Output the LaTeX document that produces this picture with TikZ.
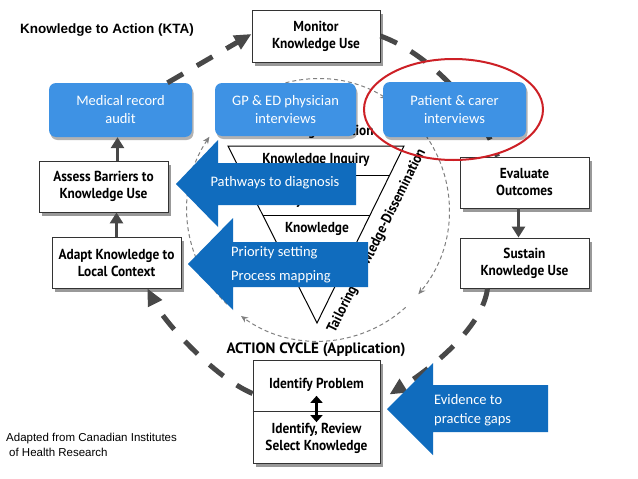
\documentclass[tikz,border=0pt]{standalone}
\usepackage{fontspec}
\setmainfont{Liberation Sans}
\newfontfamily\calfont{Carlito}
\newfontfamily\condfont[FakeStretch=0.92]{PT Sans}
\newfontfamily\labfont{PT Sans}
\usetikzlibrary{shadows,arrows.meta,calc}
\definecolor{lblue}{RGB}{62,146,228}
\definecolor{dblue}{RGB}{16,108,190}
\definecolor{cyc}{RGB}{72,72,72}
\definecolor{kred}{RGB}{205,32,38}
\begin{document}
\begin{tikzpicture}[x=1pt,y=-1pt,
  box/.style={draw=black!80, line width=0.9pt, fill=white, inner sep=0pt, align=center,
     minimum width=129pt, minimum height=51pt,
     font=\condfont\bfseries\fontsize{14.5}{17}\selectfont,
     drop shadow={shadow xshift=2.5pt, shadow yshift=-3.5pt, fill=black, opacity=0.4}},
  bbox/.style={fill=lblue, rounded corners=7pt, text=white, align=center, inner sep=0pt,
     minimum width=143pt, minimum height=54pt,
     font=\calfont\fontsize{14.5}{18}\selectfont,
     drop shadow={shadow xshift=1.5pt, shadow yshift=-3pt, fill=black, opacity=0.3}},
  atext/.style={text=white, inner sep=0pt, align=left, font=\calfont\fontsize{14.5}{24}\selectfont},
  ftext/.style={inner sep=0pt, align=center, font=\condfont\bfseries\fontsize{14.5}{17}\selectfont},
  cycdash/.style={draw=cyc, line width=5pt, dash pattern=on 18pt off 16pt},
  cyctip/.style={-{Triangle[length=17pt,width=15pt]}},
  thickarrow/.style={draw=cyc, line width=3.5pt, -{Triangle[length=11pt,width=13pt]}},
  thindash/.style={draw=black!50, line width=1pt, dash pattern=on 4pt off 3pt, -{Stealth[length=7pt,width=6pt]}},
  barrow/.style={fill=dblue}
]
\fill[white] (0,0) rectangle (638,479);
\useasboundingbox (0,0) rectangle (638,479);

% thin dashed knowledge circle
\coordinate (cc) at (318,210);
\draw[thindash] ($(cc)+(-50:131)$) arc[start angle=-50, end angle=40, radius=131];
\draw[thindash] ($(cc)+(48:131)$) arc[start angle=48, end angle=126, radius=131];
\draw[thindash] ($(cc)+(134:131)$) arc[start angle=134, end angle=214, radius=131];
\draw[thindash] ($(cc)+(222:131)$) arc[start angle=222, end angle=302, radius=131];

% funnel
\coordinate (ftl) at (228,146);
\coordinate (ftr) at (404,146);
\coordinate (fap) at (317,323);
\draw[line width=1pt, fill=white] (ftl) -- (ftr) -- (fap) -- cycle;
\draw[line width=1pt] ($(ftl)!0.164!(fap)$) -- ($(ftr)!0.164!(fap)$);
\draw[line width=1pt] ($(ftl)!0.39!(fap)$) -- ($(ftr)!0.39!(fap)$);
\node[ftext] (kc) at (316,132) {Knowledge Creation};
\node[ftext] (ki) at (316,160) {Knowledge Inquiry};
\node[ftext] (ks) at (316,201) {Synthesis};
\node[ftext] (kn) at (317,229) {Knowledge};
\node[ftext, rotate=63.5] (tk) at (377,241) {Tailoring Knowledge-Dissemination};

% white boxes
\node[box, minimum width=128pt, minimum height=52pt] (mon) at (316,36) {Monitor\\Knowledge Use};
\node[box] (eval) at (524.5,182.5) {Evaluate\\Outcomes};
\node[box, minimum height=50pt] (sus) at (524.5,263) {Sustain\\Knowledge Use};
\node[box] (assess) at (103.5,186.5) {Assess Barriers to\\Knowledge Use};
\node[box] (adapt) at (116.5,262.5) {Adapt Knowledge to\\Local Context};
\node[box, minimum width=127pt, minimum height=103pt] (act) at (316.5,411.5) {};
\node[ftext] (idp) at (316.5,385) {Identify Problem};
\node[ftext] (isk) at (316.5,438.5) {Identify, Review\\Select Knowledge};
\draw[line width=0.9pt, black!80] (act.west) -- (act.east);
\draw[black, line width=2.6pt, {Triangle[length=7pt,width=12pt]}-{Triangle[length=7pt,width=12pt]}] ($(idp.south)+(0,4)$) -- ($(isk.north)+(0,-1)$);
\node[inner sep=0pt, font=\labfont\bfseries\fontsize{15}{17}\selectfont] (aclbl) at (316,350) {ACTION CYCLE (Application)};

% blue boxes (left, middle)
\node[bbox] (mra) at (120.5,110) {Medical record\\audit};
\node[bbox, minimum width=141pt, minimum height=53pt] (gp) at (285.5,109.5) {GP \& ED physician\\interviews};

% action cycle connectors
\draw[cycdash, cyctip] ($(mra.north)+(47,0)$) -- ($(mon.west)+(0,-2)$);
\draw[cycdash] (mon.east) .. controls +(50,18) and +(-17,-47) .. ($(eval.north)+(-27,0)$);
\draw[thickarrow] ($(eval.south)+(-6,0)$) -- ($(sus.north)+(-6,0)$);
\draw[cycdash, cyctip] ($(sus.south)+(-37,0)$) .. controls +(-5,40) and +(40,-25) .. ($(act.east)+(9,-17)$);
\draw[cycdash, cyctip] ($(act.west)+(0,-18)$) .. controls +(-38,-16) and +(17,34) .. ($(adapt.south)+(31,0)$);
\draw[thickarrow] (adapt.north) -- (adapt.north |- assess.south);
\coordinate (a2) at ($(assess.north)+(14,0)$);
\draw[thickarrow] (a2) -- (a2 |- mra.south);

% right blue box
\node[bbox, minimum height=55pt] (pat) at (454.5,109.5) {Patient \& carer\\interviews};

% block arrows
\fill[barrow] (176,184) -- (218,140) -- (218,163) -- (356,163) -- (356,205) -- (218,205) -- (218,227) -- cycle;
\node[atext] (pw) at (275,183) {Pathways to diagnosis};
\fill[barrow] (188,264) -- (233,218) -- (233,242) -- (368,242) -- (368,287) -- (233,287) -- (233,310) -- cycle;
\node[atext, anchor=west] (ps) at (231,265) {Priority setting\\Process mapping};
\fill[barrow] (387,409) -- (433,363) -- (433,385) -- (548,385) -- (548,432) -- (433,432) -- (433,455) -- cycle;
\node[atext, anchor=west, font=\calfont\fontsize{14.5}{19}\selectfont] (ev) at (434,410) {Evidence to\\practice gaps};

% highlight
\draw[kred, line width=2pt] (453.5,109.5) ellipse [x radius=89.5, y radius=50.5];

% captions
\node[anchor=west, inner sep=0pt, font=\bfseries\fontsize{13.5}{16}\selectfont] (title) at (20,30) {Knowledge to Action (KTA)};
\node[anchor=north west, align=left, inner sep=0pt, font=\fontsize{11.5}{15}\selectfont] (credit) at (6,433) {Adapted from Canadian Institutes\\\hspace*{3pt}of Health Research};
\end{tikzpicture}
\end{document}
